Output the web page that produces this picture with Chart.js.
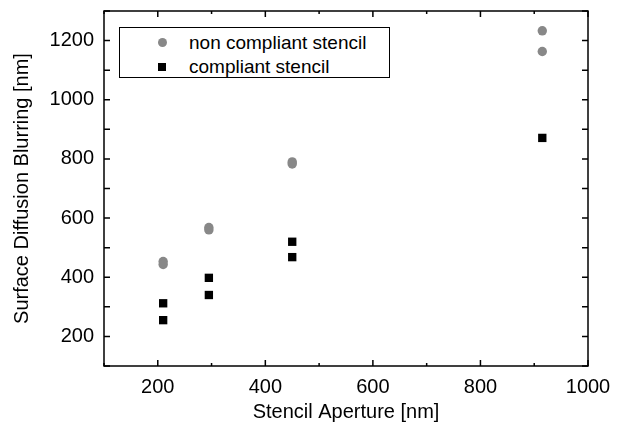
<!DOCTYPE html>
<html>
<head>
<meta charset="utf-8">
<script src="https://cdn.jsdelivr.net/npm/chart.js@4/dist/chart.umd.min.js"></script>
<style>
  html, body { margin: 0; padding: 0; background: #fff; }
  #wrap { position: relative; width: 626px; height: 436px; }
  #legend {
    position: absolute; left: 119px; top: 27px; width: 269px; height: 49px;
    border: 1px solid #000; background: #fff;
    font-family: 'Liberation Sans', Arial, sans-serif; font-size: 19px; color: #000;
  }
  .lg-row { position: absolute; left: 0; height: 20px; line-height: 20px; }
  .lg-row span.txt { position: absolute; left: 69px; white-space: nowrap; }
  .lg-mark { position: absolute; }
  .lg-circle { left: 38px; top: 5px; width: 9px; height: 9px; border-radius: 50%; background: #888; }
  .lg-rect { left: 38px; top: 6px; width: 8px; height: 8px; background: #000; }
</style>
</head>
<body>
<div id="wrap">
  <canvas id="chart" width="626" height="436"></canvas>
  <div id="legend">
    <div class="lg-row" style="top:5px"><span class="lg-mark lg-circle"></span><span class="txt">non compliant stencil</span></div>
    <div class="lg-row" style="top:29px"><span class="lg-mark lg-rect"></span><span class="txt">compliant stencil</span></div>
  </div>
</div>
<script>
// ─── DATA ─────────────────────────────────────────────────
const apertures = [210, 295, 450, 915];
const nonCompliantA = [453, 568, 790, 1233];
const nonCompliantB = [443, 560, 783, 1163];
const compliantA = [312, 398, 520, 871];
const compliantB = [255, 340, 468, null];

const xTickLabels = [200, 400, 600, 800, 1000];
const yTickLabels = [200, 400, 600, 800, 1000, 1200];

function toPoints(...series) {
    const pts = [];
    series.forEach(s => s.forEach((v, i) => { if (v !== null) pts.push({ x: apertures[i], y: v }); }));
    return pts;
}

const font = { family: "'Liberation Sans', Arial, sans-serif", size: 20 };

// inward ticks + frame, like the original plot
const frameTicks = {
    id: 'frameTicks',
    afterDraw(chart) {
        const { ctx, chartArea: a, scales: { x, y } } = chart;
        ctx.save();
        ctx.strokeStyle = '#000';
        ctx.lineWidth = 1.5;
        ctx.strokeRect(a.left, a.top, a.right - a.left, a.bottom - a.top);
        ctx.beginPath();
        x.ticks.forEach(t => {
            const px = x.getPixelForValue(t.value);
            const major = xTickLabels.includes(t.value);
            const len = major ? 6 : 3;
            ctx.moveTo(px, a.bottom); ctx.lineTo(px, a.bottom - len);
            ctx.moveTo(px, a.top); ctx.lineTo(px, a.top + len);
        });
        y.ticks.forEach(t => {
            const py = y.getPixelForValue(t.value);
            ctx.moveTo(a.left, py); ctx.lineTo(a.left + 6, py);
            ctx.moveTo(a.right, py); ctx.lineTo(a.right - 6, py);
        });
        ctx.stroke();
        ctx.restore();
    }
};

function noPad(s) {
    s.paddingTop = 0; s.paddingBottom = 0; s.paddingLeft = 0; s.paddingRight = 0;
}

new Chart(document.getElementById('chart'), {
    type: 'scatter',
    data: {
        datasets: [
            {
                label: 'non compliant stencil',
                data: toPoints(nonCompliantA, nonCompliantB),
                pointStyle: 'circle', pointRadius: 4.7, pointHoverRadius: 4.7,
                backgroundColor: '#888888', borderWidth: 0,
            },
            {
                label: 'compliant stencil',
                data: toPoints(compliantA, compliantB),
                pointStyle: 'rect', pointRadius: 5.9, pointHoverRadius: 5.9,
                backgroundColor: '#000000', borderWidth: 0,
            }
        ]
    },
    options: {
        responsive: false, animation: false,
        layout: { padding: { left: 0, right: 38, top: 11, bottom: 0 } },
        plugins: { legend: { display: false }, tooltip: { enabled: false } },
        scales: {
            x: {
                type: 'linear', min: 100, max: 1000,
                grid: { display: false, drawTicks: false },
                border: { display: false },
                ticks: {
                    stepSize: 100, padding: 9, color: '#000', font,
                    autoSkip: false, maxRotation: 0,
                    callback: v => xTickLabels.includes(v) ? String(v) : ''
                },
                title: { display: true, text: 'Stencil Aperture [nm]', color: '#000', font, padding: { top: 12, bottom: 12 } },
                afterFit: s => { s.height = 70; noPad(s); }
            },
            y: {
                type: 'linear', min: 100, max: 1300,
                grid: { display: false, drawTicks: false },
                border: { display: false },
                ticks: {
                    stepSize: 100, padding: 10, color: '#000', font, autoSkip: false,
                    callback: v => yTickLabels.includes(v) ? String(v) : ''
                },
                title: { display: true, text: 'Surface Diffusion Blurring [nm]', color: '#000', font, padding: { top: 10, bottom: 10 } },
                afterFit: s => { s.width = 104; noPad(s); }
            }
        }
    },
    plugins: [frameTicks]
});
</script>
</body>
</html>
